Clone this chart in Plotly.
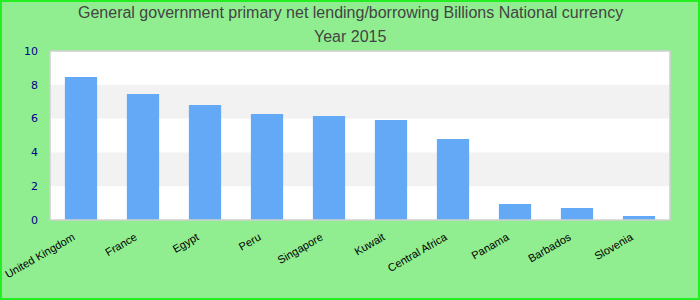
import plotly.graph_objects as go

countries = ["United Kingdom", "France", "Egypt", "Peru", "Singapore", "Kuwait",
             "Central Africa", "Panama", "Barbados", "Slovenia"]
values = [8.46, 7.46, 6.8, 6.27, 6.15, 5.92, 4.79, 0.95, 0.71, 0.24]
band_starts = [2, 6]
band_width = 2
title_lines = ["General government primary net lending/borrowing Billions National currency",
               "Year 2015"]

W, H = 700, 300
ml, mr, mt, mb = 50, 30, 51, 80
pw, ph = W - ml - mr, H - mt - mb

fig = go.Figure(go.Bar(x=countries, y=values, marker_color="#63A9F5",
                       marker_line_width=0))

shapes = []
for b in band_starts:
    shapes.append(dict(type="rect", xref="paper", yref="y", x0=0, x1=1,
                       y0=b, y1=b + band_width, fillcolor="#F2F2F2",
                       line_width=0, layer="below"))
shapes.append(dict(type="rect", xref="paper", yref="paper", x0=0, x1=1, y0=0, y1=1,
                   line=dict(color="#D0D0D0", width=1.5), fillcolor="rgba(0,0,0,0)"))
shapes.append(dict(type="rect", xref="paper", yref="paper",
                   x0=(-ml + 1) / pw, x1=(pw + mr - 1) / pw,
                   y0=(-mb + 1) / ph, y1=(ph + mt - 1) / ph,
                   line=dict(color="#22EE22", width=2), fillcolor="rgba(0,0,0,0)"))

annotations = []
for i, (t, ypix) in enumerate(zip(title_lines, [13, 36])):
    annotations.append(dict(text=t, xref="paper", yref="paper",
                            x=(W / 2 - ml) / pw, y=(H - mb - ypix) / ph,
                            xanchor="center", yanchor="middle", showarrow=False,
                            font=dict(family="Liberation Sans, Arial", size=16, color="#444444")))

fig.update_layout(
    width=W, height=H,
    margin=dict(l=ml, r=mr, t=mt, b=mb, autoexpand=False),
    paper_bgcolor="#90EE90", plot_bgcolor="#FFFFFF",
    bargap=0.48,
    xaxis=dict(tickangle=-30, tickfont=dict(family="Liberation Sans, Arial", size=11, color="#000000"),
               showgrid=False, showline=False, ticks="", ticklabelstandoff=8,
               ticklabelshift=-8, automargin=False),
    yaxis=dict(range=[0, 10], dtick=2, showgrid=False, zeroline=False,
               tickfont=dict(family="DejaVu Sans", size=11, color="#00008B"),
               ticks="", ticklabelstandoff=11, automargin=False),
    shapes=shapes,
    annotations=annotations,
    showlegend=False,
)

fig.write_html("out.html")
